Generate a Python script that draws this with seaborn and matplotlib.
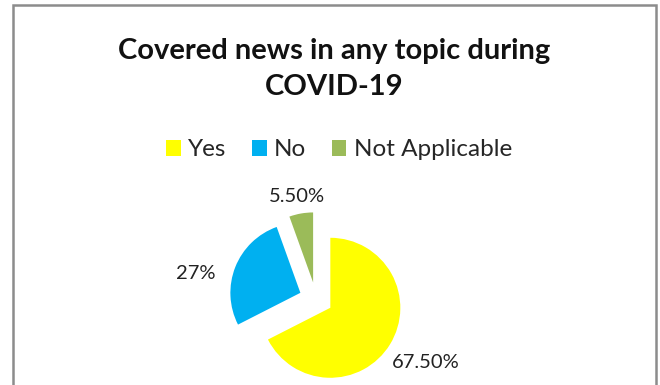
import numpy as np
import matplotlib
matplotlib.use("Agg")
import matplotlib.pyplot as plt
import seaborn as sns
from matplotlib.patches import Rectangle

categories = ["Yes", "No", "Not Applicable"]
values = [67.5, 27.0, 5.5]
value_labels = ["67.50%", "27%", "5.50%"]
title = "Covered news in any topic during\nCOVID-19"

sns.set_theme(style="white")
plt.rcParams["font.family"] = ["Lato", "DejaVu Sans"]
colors = ["#FFFF00", "#00B0F0", "#9BBB59"]

W, H = 660, 385
fig = plt.figure(figsize=(W / 100, H / 100), dpi=100)
fig.patch.set_facecolor("white")

# outer chart border (bottom edge is cut off in the reference)
fig.patches.append(Rectangle((12.5 / W, -0.05), 643 / W, 1.05 - 5.5 / H,
                             transform=fig.transFigure, fill=False,
                             edgecolor="#8C8C8C", linewidth=1.8))

# pie axes: 70 px per unit, centre at (316, 299) px from top-left
cx, cy, ppu = 316, H - 299, 70
half = 2.0
ax = fig.add_axes([(cx - half * ppu) / W, (cy - half * ppu) / H,
                   2 * half * ppu / W, 2 * half * ppu / H])

wedges, texts = ax.pie(values, colors=colors, startangle=90, counterclock=False,
                       explode=[0.24] * 3, radius=1.0, labels=value_labels,
                       wedgeprops=dict(linewidth=0),
                       textprops=dict(fontsize=14.5, color="#222222"))
ax.set_xlim(-half, half)
ax.set_ylim(-half, half)
ax.set_aspect("equal")
ax.axis("off")
for c in ax.patches:
    c.set_clip_on(False)

# label placement: radius and angle tweak per label
label_r = [1.81, 1.75, 1.49]
label_dth = [1.5, 9.6, 0.7]
for w, t, r, dth in zip(wedges, texts, label_r, label_dth):
    mid = np.deg2rad((w.theta1 + w.theta2) / 2 + dth)
    t.set_position((r * np.cos(mid), r * np.sin(mid)))
    t.set_ha("center")
    t.set_va("center")
    t.set_clip_on(False)

fig.text(334 / W, 1 - 69 / H, title, ha="center", va="center",
         fontsize=21, fontweight="bold", color="#111111", linespacing=1.45)

handles = [Rectangle((0, 0), 1, 1, facecolor=c, edgecolor="none") for c in colors]
fig.legend(handles, categories, loc="center", bbox_to_anchor=(339 / W, 1 - 150 / H),
           ncol=3, frameon=False, fontsize=17.5, handlelength=0.6, handleheight=0.6,
           handletextpad=0.3, columnspacing=1.05)

fig.savefig("out.png", dpi=100, facecolor="white")
